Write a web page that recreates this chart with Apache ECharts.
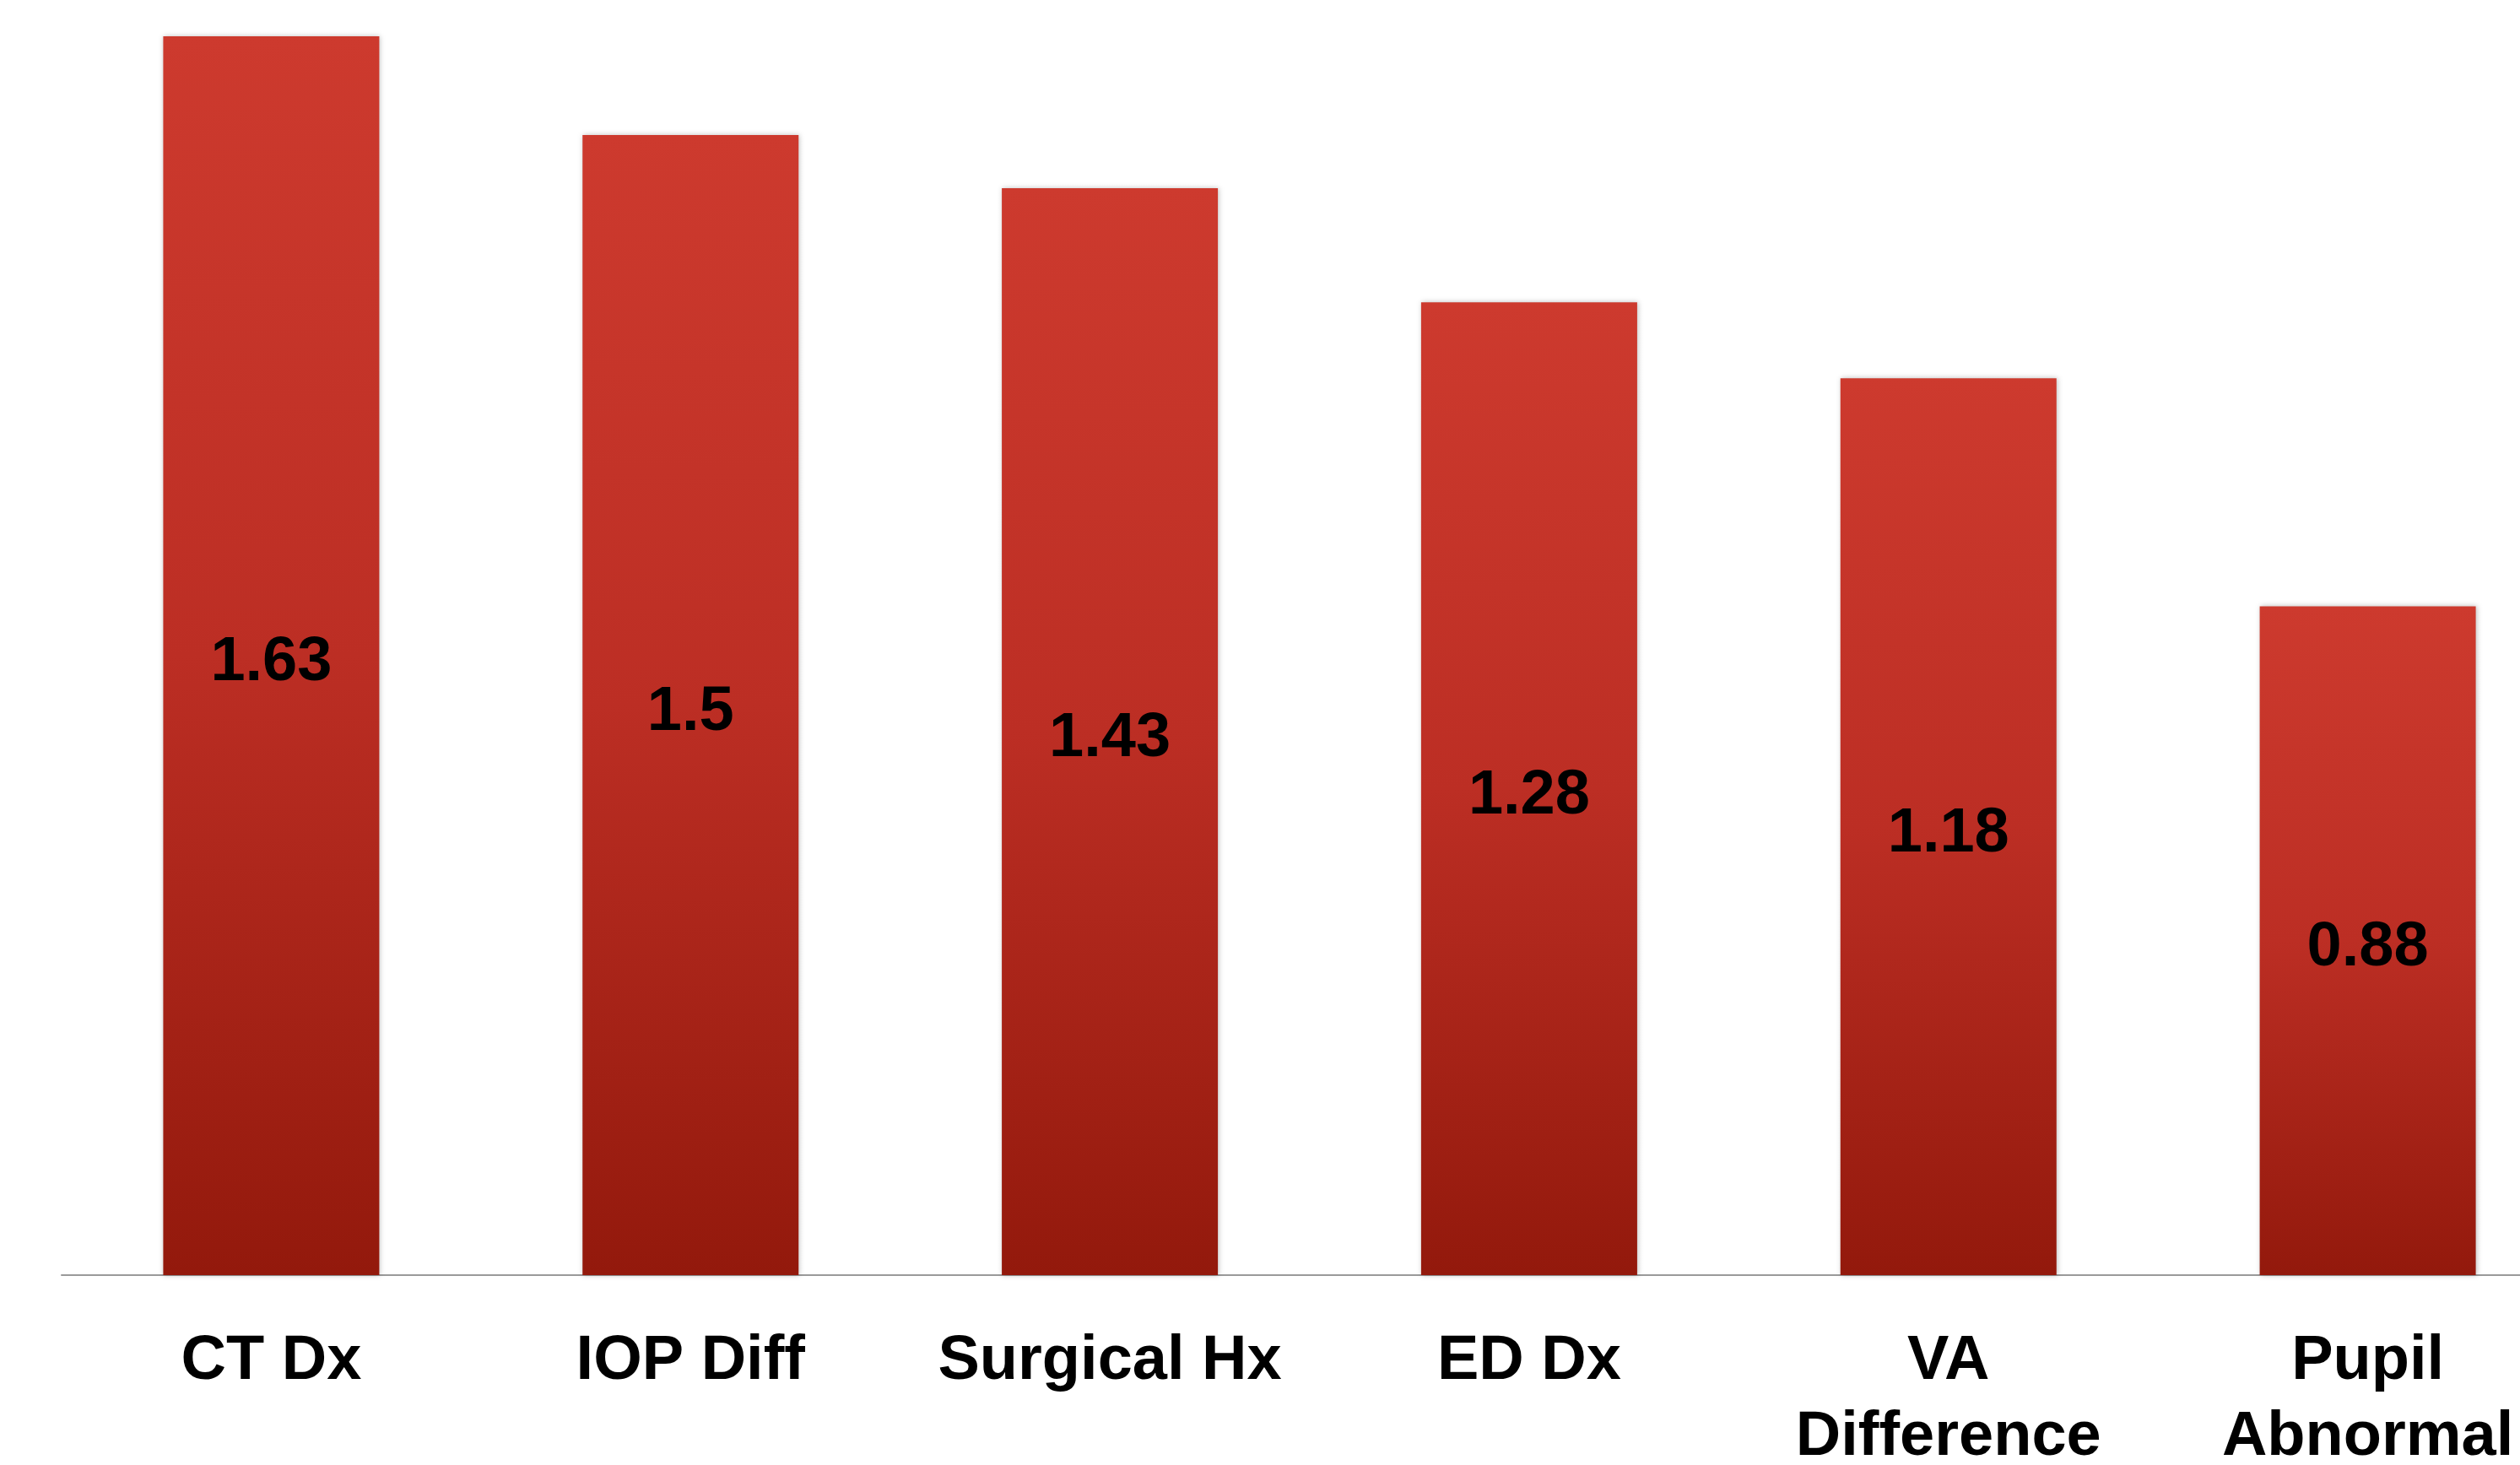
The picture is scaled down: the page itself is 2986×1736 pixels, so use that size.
<!DOCTYPE html>
<html>
<head>
<meta charset="utf-8">
<script src="https://cdn.jsdelivr.net/npm/echarts@6/dist/echarts.min.js"></script>
<style>
html,body{margin:0;padding:0;background:#fff;}
#chart{width:2986px;height:1736px;}
</style>
</head>
<body>
<div id="chart"></div>
<script>
const categories = ['CT Dx', 'IOP Diff', 'Surgical Hx', 'ED Dx', 'VA\nDifference', 'Pupil\nAbnormal'];
const values = [1.63, 1.5, 1.43, 1.28, 1.18, 0.88];

const chart = echarts.init(document.getElementById('chart'));
chart.setOption({
  animation: false,
  backgroundColor: '#ffffff',
  grid: { left: 73, right: -68, top: 43, bottom: 225, containLabel: false, outerBoundsMode: 'none' },
  xAxis: {
    type: 'category',
    data: categories,
    axisLine: { show: true, lineStyle: { color: '#9a9a9a', width: 2 } },
    axisTick: { show: false },
    axisLabel: {
      interval: 0,
      margin: 58,
      color: '#000',
      fontFamily: '"Liberation Sans", Arial, sans-serif',
      fontWeight: 'bold',
      fontSize: 74,
      lineHeight: 90,
      hideOverlap: false
    }
  },
  yAxis: {
    type: 'value',
    min: 0,
    max: 'dataMax',
    show: false,
    splitLine: { show: false }
  },
  series: [{
    type: 'bar',
    data: values,
    barWidth: 256,
    itemStyle: {
      color: new echarts.graphic.LinearGradient(0, 0, 0, 1, [
        { offset: 0, color: '#cd3a2e' },
        { offset: 0.5, color: '#bc2e24' },
        { offset: 1, color: '#93190c' }
      ]),
      shadowColor: 'rgba(0,0,0,0.25)',
      shadowBlur: 6,
      shadowOffsetX: 1
    },
    label: {
      show: true,
      position: 'inside',
      offset: [0, 9],
      color: '#000',
      fontFamily: '"Liberation Sans", Arial, sans-serif',
      fontWeight: 'bold',
      fontSize: 74
    }
  }]
});
</script>
</body>
</html>
